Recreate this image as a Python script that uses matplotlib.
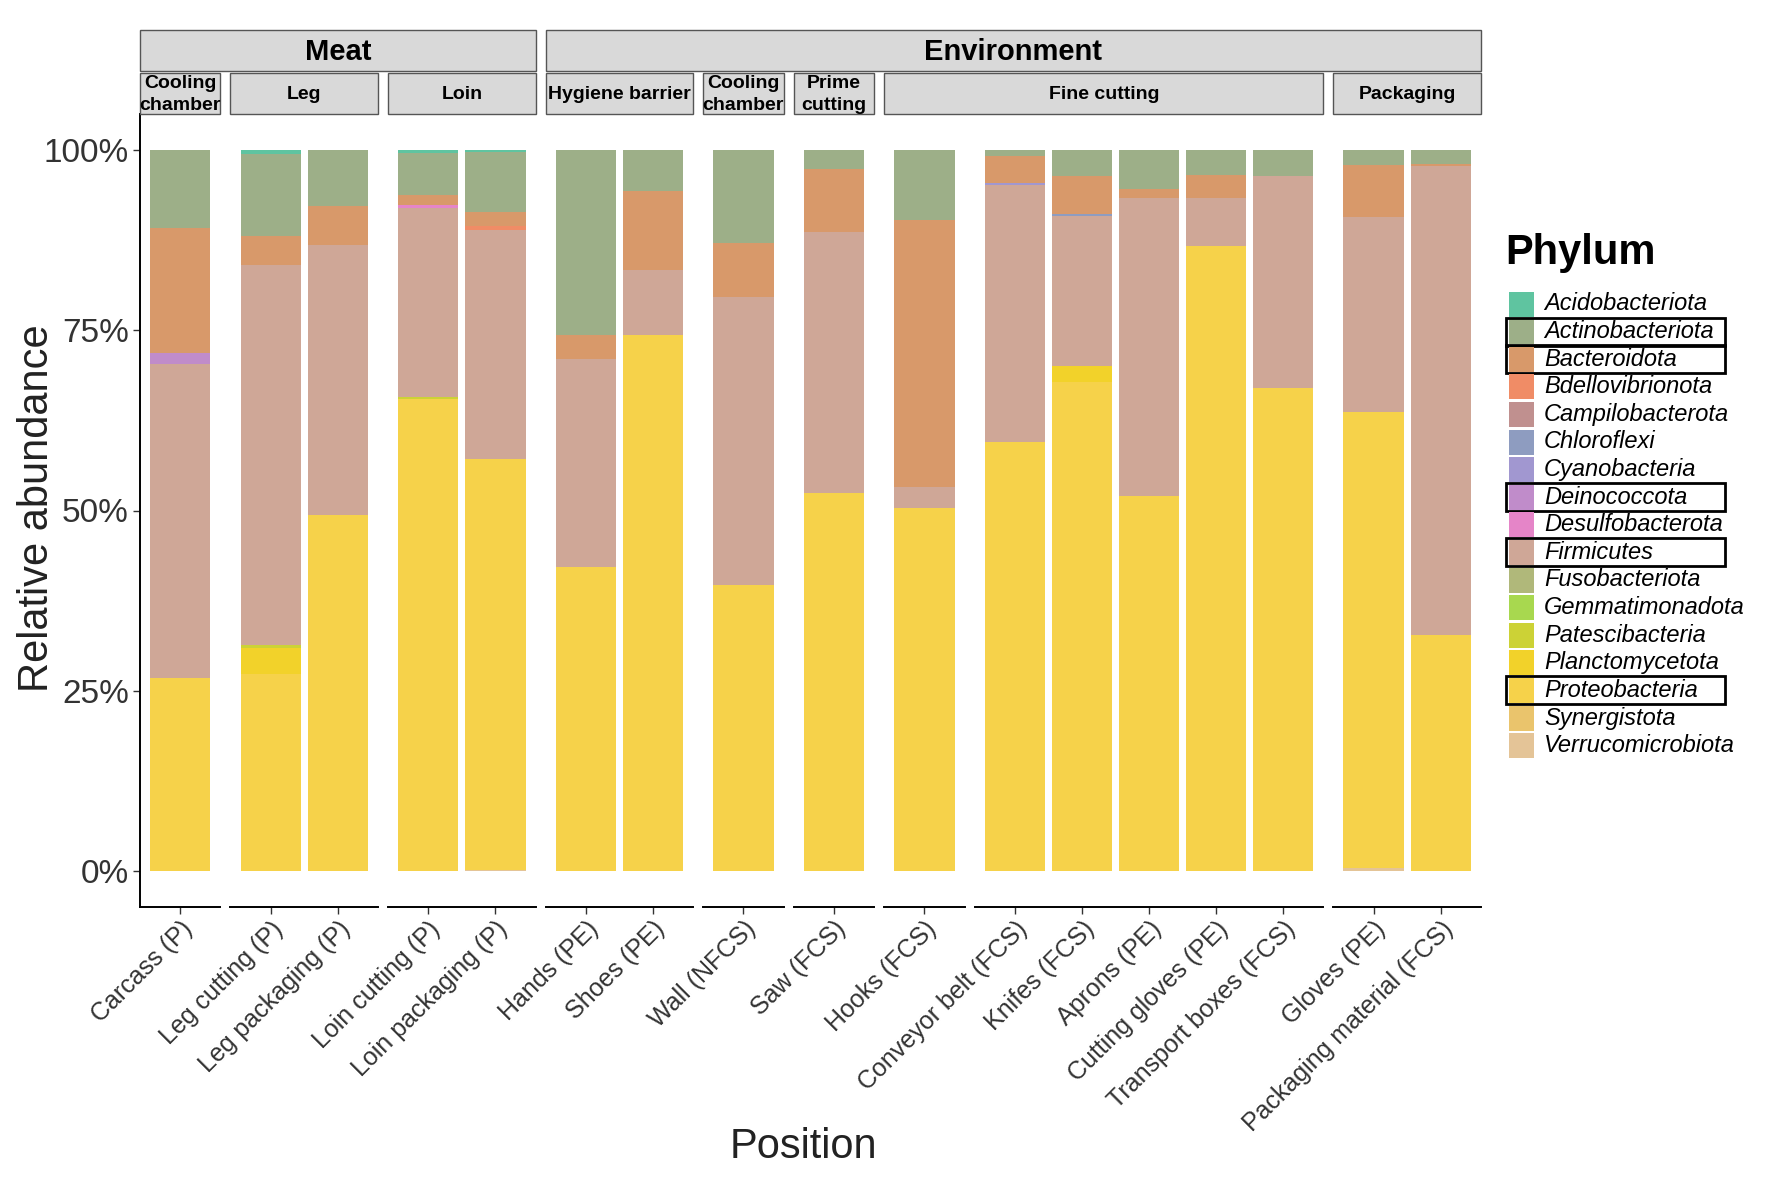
import matplotlib.pyplot as plt
from matplotlib.patches import Rectangle
import numpy as np

plt.rcParams['font.family'] = ['Liberation Sans', 'DejaVu Sans']

# samples (x axis), in plotting order
samples = ['Carcass (P)', 'Leg cutting (P)', 'Leg packaging (P)', 'Loin cutting (P)',
           'Loin packaging (P)', 'Hands (PE)', 'Shoes (PE)', 'Wall (NFCS)', 'Saw (FCS)',
           'Hooks (FCS)', 'Conveyor belt (FCS)', 'Knifes (FCS)', 'Aprons (PE)',
           'Cutting gloves (PE)', 'Transport boxes (FCS)', 'Gloves (PE)',
           'Packaging material (FCS)']

# facet each sample belongs to
panel_of_sample = [0, 1, 1, 2, 2, 3, 3, 4, 5, 6, 7, 7, 7, 7, 7, 8, 8]
panel_group = ['Meat', 'Meat', 'Meat', 'Environment', 'Environment', 'Environment',
               'Environment', 'Environment', 'Environment']
panel_label = ['Cooling\nchamber', 'Leg', 'Loin', 'Hygiene barrier', 'Cooling\nchamber',
               'Prime\ncutting', 'Fine cutting', 'Fine cutting', 'Packaging']

phyla = ['Acidobacteriota', 'Actinobacteriota', 'Bacteroidota', 'Bdellovibrionota',
         'Campilobacterota', 'Chloroflexi', 'Cyanobacteria', 'Deinococcota',
         'Desulfobacterota', 'Firmicutes', 'Fusobacteriota', 'Gemmatimonadota',
         'Patescibacteria', 'Planctomycetota', 'Proteobacteria', 'Synergistota',
         'Verrucomicrobiota']
colors = ['#5FC4A0', '#9DAF88', '#D8996A', '#F08C66', '#C0908F', '#8E9CC0', '#A197D0',
          '#C08CCA', '#E585C8', '#CFA797', '#B0B87A', '#A8D84F', '#CCD236', '#F2D22A',
          '#F6D24A', '#EAC46C', '#E4C497']
boxed = ['Actinobacteriota', 'Bacteroidota', 'Deinococcota', 'Firmicutes', 'Proteobacteria']

# relative abundance per phylum, one value per sample
z = [0.0] * 17
acido = [0, 0.005, 0, 0.004, 0.003, 0, 0, 0, 0, 0, 0, 0, 0, 0, 0, 0, 0]
actino = [0.108, 0.114, 0.078, 0.058, 0.083, 0.256, 0.057, 0.129, 0.026, 0.097, 0.008,
          0.036, 0.054, 0.034, 0.036, 0.021, 0.020]
bactero = [0.173, 0.041, 0.054, 0.014, 0.020, 0.034, 0.110, 0.075, 0.087, 0.371, 0.038,
           0.053, 0.012, 0.033, 0, 0.072, 0.002]
bdello = [0, 0, 0, 0, 0.005, 0, 0, 0, 0, 0, 0, 0, 0, 0, 0, 0, 0]
chloro = [0, 0, 0, 0, 0, 0, 0, 0, 0, 0, 0, 0.003, 0, 0, 0, 0, 0]
cyano = [0, 0, 0, 0, 0, 0, 0, 0, 0, 0, 0.002, 0, 0, 0, 0, 0, 0]
deino = [0.016, 0, 0, 0, 0, 0, 0, 0, 0, 0, 0, 0, 0, 0, 0, 0, 0]
desulfo = [0, 0, 0, 0.004, 0, 0, 0, 0, 0, 0, 0, 0, 0, 0, 0, 0, 0]
firmi = [0.435, 0.527, 0.374, 0.262, 0.318, 0.289, 0.090, 0.400, 0.363, 0.028, 0.357,
         0.207, 0.414, 0.066, 0.294, 0.270, 0.651]
patesci = [0, 0.004, 0, 0.003, 0, 0, 0, 0, 0, 0, 0, 0, 0, 0, 0, 0, 0]
plancto = [0, 0.036, 0, 0, 0, 0, 0, 0, 0, 0, 0, 0.023, 0, 0, 0, 0, 0]
proteo = [0.268, 0.273, 0.494, 0.655, 0.569, 0.421, 0.743, 0.396, 0.524, 0.504, 0.595,
          0.678, 0.520, 0.867, 0.670, 0.633, 0.327]
verruco = [0, 0, 0, 0, 0.002, 0, 0, 0, 0, 0, 0, 0, 0, 0, 0, 0.004, 0]

values = [acido, actino, bactero, bdello, z, chloro, cyano, deino, desulfo, firmi, z, z,
          patesci, plancto, proteo, z, verruco]

W, H = 1772, 1185
fig = plt.figure(figsize=(W / 100, H / 100), dpi=100)

# layout in pixels
left_px, right_px, gap_px = 140, 1481, 10
top_px, bot_px = 114, 907
n_panels = len(panel_label)
sizes = [panel_of_sample.count(i) for i in range(n_panels)]
unit = (right_px - left_px - gap_px * (n_panels - 1)) / (sum(sizes) + 0.2 * n_panels)

panel_x = []
x = left_px
for n in sizes:
    w = (n + 0.2) * unit
    panel_x.append((x, x + w))
    x += w + gap_px

tick_col = '#333333'
for i in range(n_panels):
    x0, x1 = panel_x[i]
    ax = fig.add_axes([x0 / W, 1 - bot_px / H, (x1 - x0) / W, (bot_px - top_px) / H])
    idx = [k for k in range(len(samples)) if panel_of_sample[k] == i]
    pos = np.arange(len(idx))
    bottom = np.zeros(len(idx))
    # ggplot stacks the first level on top, so draw from the last one up
    for p in range(len(phyla) - 1, -1, -1):
        vals = np.array([values[p][k] for k in idx])
        ax.bar(pos, vals, 0.9, bottom=bottom, color=colors[p], linewidth=0)
        bottom += vals
    ax.set_xlim(-0.6, len(idx) - 0.4)
    ax.set_ylim(-0.05, 1.05)
    ax.set_xticks(pos)
    ax.set_xticklabels([samples[k] for k in idx], rotation=45, ha='right', va='top',
                       rotation_mode='anchor', fontsize=18, color=tick_col)
    for s in ['top', 'right']:
        ax.spines[s].set_visible(False)
    ax.spines['bottom'].set_linewidth(1.4)
    ax.tick_params(axis='x', length=5, width=1, color=tick_col, pad=2)
    if i == 0:
        ax.spines['left'].set_linewidth(1.4)
        ax.set_yticks([0, 0.25, 0.5, 0.75, 1.0])
        ax.set_yticklabels(['0%', '25%', '50%', '75%', '100%'], fontsize=24, color=tick_col)
        ax.tick_params(axis='y', length=5, width=1, color=tick_col, pad=3)
    else:
        ax.spines['left'].set_visible(False)
        ax.tick_params(axis='y', left=False, labelleft=False)

# overlay in pixel coordinates for strips, titles and legend
ov = fig.add_axes([0, 0, 1, 1])
ov.set_xlim(0, W)
ov.set_ylim(H, 0)
ov.axis('off')


def draw_strips(keys, y0, y1, size):
    i = 0
    while i < n_panels:
        j = i
        while j + 1 < n_panels and keys[j + 1] == keys[i]:
            j += 1
        xa, xb = panel_x[i][0], panel_x[j][1]
        ov.add_patch(Rectangle((xa, y0), xb - xa, y1 - y0, facecolor='#D9D9D9',
                               edgecolor='#555555', linewidth=1.0))
        label = keys[i] if isinstance(keys[i], str) else keys[i][1]
        ov.text((xa + xb) / 2, (y0 + y1) / 2 + 1, label, ha='center', va='center',
                fontsize=size, fontweight='bold', linespacing=1.4)
        i = j + 1


draw_strips(panel_group, 30, 71, 21)
draw_strips(list(zip(panel_group, panel_label)), 73, 114, 14)

ov.text(37, 508, 'Relative abundance', rotation=90, ha='center', va='center',
        fontsize=30, color='#222222')
ov.text(803, 1147, 'Position', ha='center', va='center', fontsize=30, color='#222222')

# legend
ov.text(1505, 253, 'Phylum', ha='left', va='center', fontsize=30, fontweight='bold')
for i, name in enumerate(phyla):
    cy = 304 + i * 27.6
    ov.add_patch(Rectangle((1509, cy - 12.5), 25, 25, facecolor=colors[i], linewidth=0))
    ov.text(1544, cy, name, ha='left', va='center', fontsize=17, style='italic')
    if name in boxed:
        ov.add_patch(Rectangle((1506, cy - 14), 219, 28, facecolor='none',
                               edgecolor='black', linewidth=2))

fig.savefig('out.png', dpi=100)
